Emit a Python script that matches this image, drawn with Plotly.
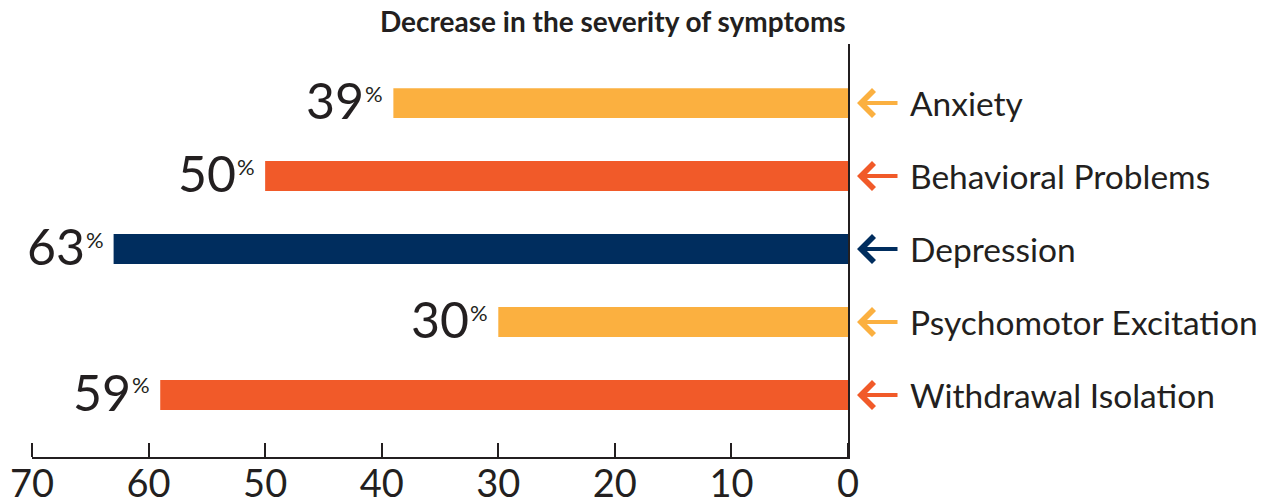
import plotly.graph_objects as go

categories = ["Anxiety", "Behavioral Problems", "Depression", "Psychomotor Excitation", "Withdrawal Isolation"]
values = [39, 50, 63, 30, 59]
colors = ["#FBB040", "#F15A29", "#002D5E", "#FBB040", "#F15A29"]
tick_vals = [0, 10, 20, 30, 40, 50, 60, 70]
title_text = "Decrease in the severity of symptoms"

INK = "#231f20"
FONT = "Lato"

fig = go.Figure()
fig.add_trace(go.Bar(
    x=values, y=categories, orientation="h",
    marker=dict(color=colors, line=dict(width=0)),
    width=0.41, hoverinfo="skip",
))
# invisible companion trace so the upward-tick axis is drawn
fig.add_trace(go.Scatter(
    x=values, y=categories, xaxis="x2", mode="markers",
    marker=dict(opacity=0), hoverinfo="skip", showlegend=False,
))

annotations = []
for cat, val, col in zip(categories, values, colors):
    annotations.append(dict(
        x=val, y=cat, xref="x", yref="y", text="%",
        showarrow=False, xanchor="right", yanchor="middle", xshift=-8, yshift=10,
        font=dict(family=FONT, size=22, color=INK),
    ))
    annotations.append(dict(
        x=val, y=cat, xref="x", yref="y", text=str(val),
        showarrow=False, xanchor="right", yanchor="middle", xshift=-27, yshift=3,
        font=dict(family=FONT, size=50, color=INK),
    ))
    annotations.append(dict(
        x=0, y=cat, xref="x", yref="y", text="",
        showarrow=True, ax=42, ay=0, axref="pixel", ayref="pixel",
        xshift=9, arrowhead=4, arrowsize=1.25, arrowwidth=4, arrowcolor=col,
        standoff=0,
    ))
    annotations.append(dict(
        x=0, y=cat, xref="x", yref="y", text=cat,
        showarrow=False, xanchor="left", yanchor="middle", xshift=60, yshift=0,
        font=dict(family=FONT, size=33.5, color=INK),
    ))
annotations.append(dict(
    x=1, y=1, xref="paper", yref="paper", text=f"<b>{title_text}</b>",
    showarrow=False, xanchor="right", yanchor="bottom", yshift=4,
    font=dict(family=FONT, size=28, color=INK, weight=900),
))

fig.update_layout(
    width=1265, height=493,
    margin=dict(l=24, r=425, t=36, b=44, autoexpand=False),
    paper_bgcolor="white", plot_bgcolor="white",
    showlegend=False,
    annotations=annotations,
    xaxis=dict(
        range=[70, 0], tickvals=tick_vals, ticktext=[str(v) for v in tick_vals],
        showline=True, linecolor=INK, linewidth=2,
        ticks="", showgrid=False, zeroline=False, automargin=False,
        tickfont=dict(family=FONT, size=38, color=INK),
        ticklabelstandoff=-8,
        fixedrange=True,
    ),
    xaxis2=dict(
        range=[70, 0], tickvals=tick_vals, overlaying="x",
        anchor="free", position=0, side="top",
        showline=False, showticklabels=False,
        ticks="outside", ticklen=14, tickwidth=2, tickcolor=INK,
        showgrid=False, zeroline=False, automargin=False, fixedrange=True,
    ),
    yaxis=dict(
        categoryorder="array", categoryarray=categories,
        range=[4.85, -0.81], side="right",
        showline=True, linecolor=INK, linewidth=2,
        showticklabels=False, ticks="", showgrid=False, zeroline=False,
        automargin=False, fixedrange=True,
    ),
)

fig.write_html("out.html")
